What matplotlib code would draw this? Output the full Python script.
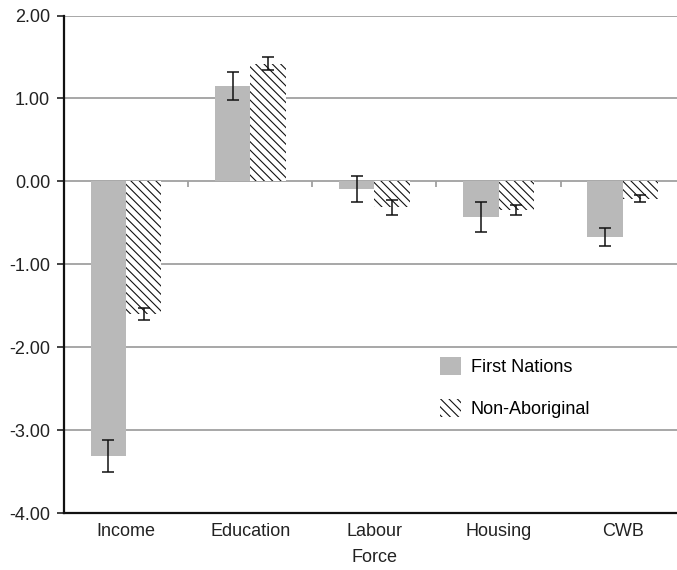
import matplotlib
matplotlib.use('Agg')
import matplotlib.pyplot as plt
import numpy as np

categories = ['Income', 'Education', 'Labour\nForce', 'Housing', 'CWB']
first_nations = [-3.31, 1.15, -0.09, -0.43, -0.67]
first_nations_err = [0.19, 0.165, 0.16, 0.185, 0.11]
non_aboriginal = [-1.60, 1.42, -0.31, -0.34, -0.21]
non_aboriginal_err = [0.07, 0.075, 0.09, 0.06, 0.04]
y_ticks = [-4, -3, -2, -1, 0, 1, 2]

plt.rcParams['font.family'] = ['Liberation Sans', 'DejaVu Sans']
plt.rcParams['font.size'] = 13
plt.rcParams['hatch.linewidth'] = 0.8
plt.rcParams['hatch.color'] = '#111111'

fig = plt.figure(figsize=(6.77, 5.70), dpi=100)
ax = fig.add_axes([0.0945, 0.10, 0.917, 0.8728])

x = np.arange(len(categories))
w = 0.285

ax.bar(x - w / 2, first_nations, w, color='#b9b9b9', label='First Nations', zorder=3)
ax.bar(x + w / 2, non_aboriginal, w, color='white', edgecolor='#111111', linewidth=0,
       hatch='\\\\\\\\', label='Non-Aboriginal', zorder=3)
ax.errorbar(x - w / 2, first_nations, yerr=first_nations_err, fmt='none', ecolor='#111111',
            elinewidth=1.1, capsize=4, capthick=1.1, zorder=4)
ax.errorbar(x + w / 2, non_aboriginal, yerr=non_aboriginal_err, fmt='none', ecolor='#111111',
            elinewidth=1.1, capsize=4, capthick=1.1, zorder=4)

ax.set_xlim(-0.5, len(categories) - 0.5)
ax.set_ylim(-4, 2)
ax.set_yticks(y_ticks)
ax.set_yticklabels([f'{v:.2f}' for v in y_ticks])
ax.set_xticks(x)
ax.set_xticklabels(categories, linespacing=1.75)
ax.tick_params(axis='x', length=0, pad=7, colors='#222222')
ax.tick_params(axis='y', length=5, width=1.2, pad=5, colors='#222222')

for v in y_ticks:
    if v > -4:
        ax.axhline(v, color='#a0a0a0', lw=1.3, zorder=1)

# small category separator ticks on the zero line
ax.vlines(x[1:] - 0.5, -0.07, 0, color='#a0a0a0', lw=1.3, zorder=2)

for s in ['top', 'right']:
    ax.spines[s].set_visible(False)
for s in ['left', 'bottom']:
    ax.spines[s].set_linewidth(1.6)
    ax.spines[s].set_color('#111111')

ax.legend(loc='upper left', bbox_to_anchor=(0.58, 0.346), frameon=False,
          handlelength=1.15, handleheight=1.15, labelspacing=1.25, handletextpad=0.55)

fig.savefig('out.png', dpi=100)
